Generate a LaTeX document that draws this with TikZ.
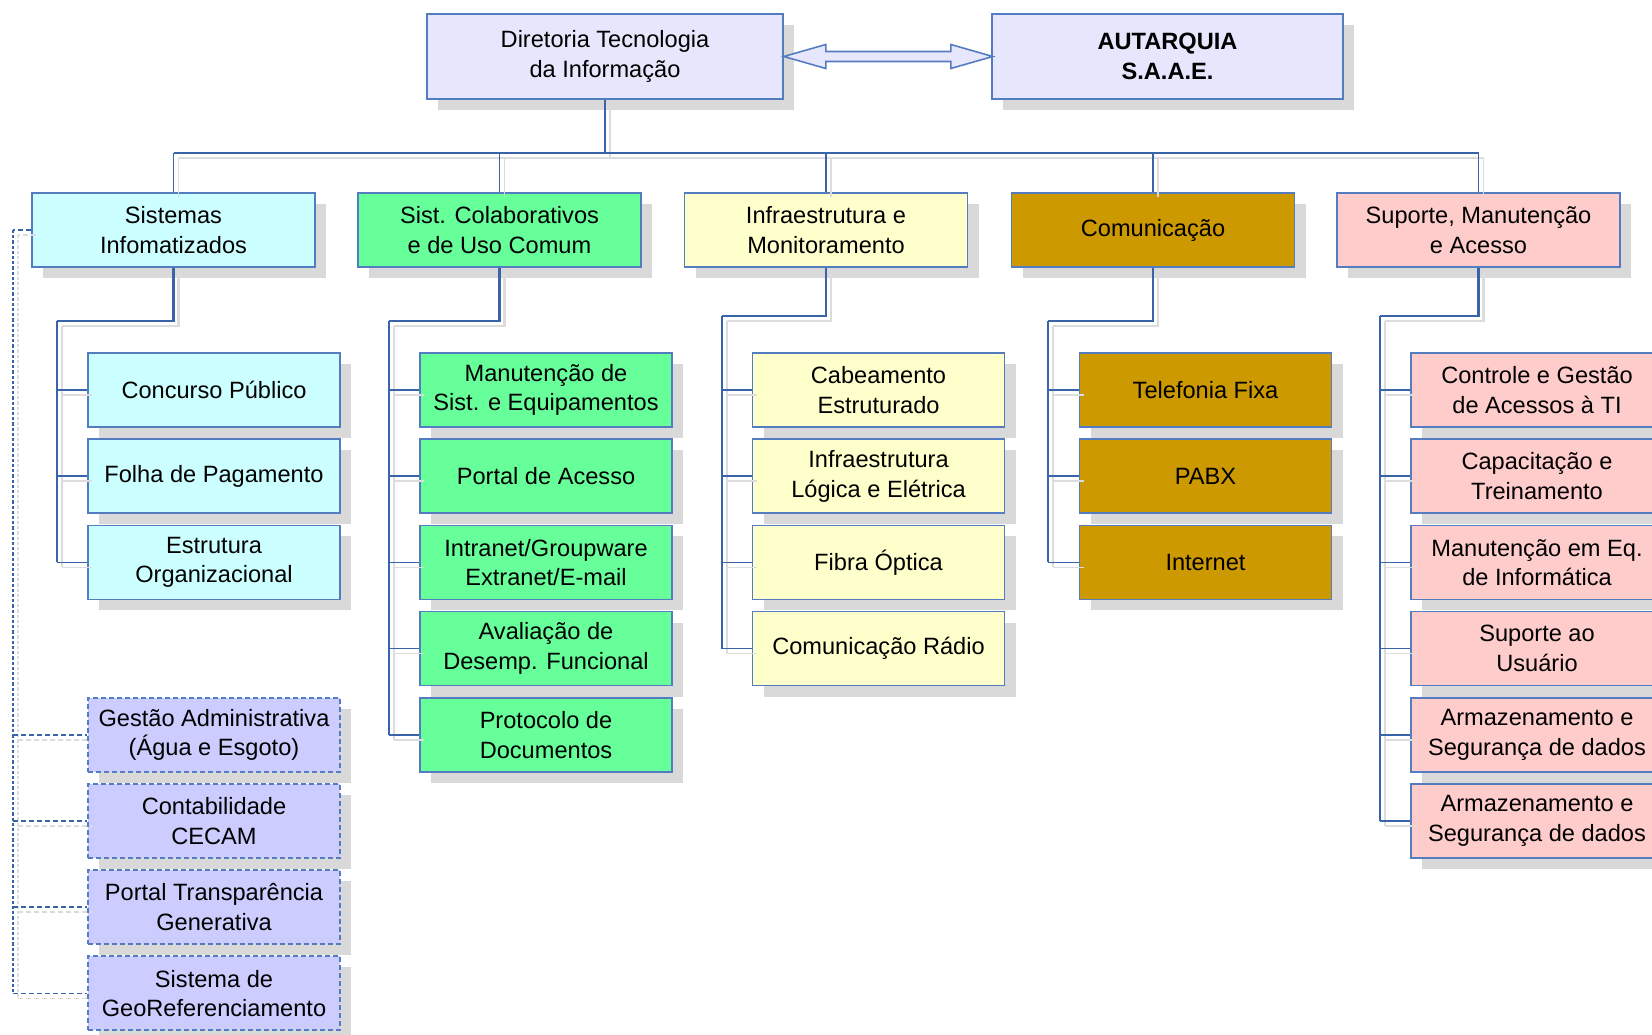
\documentclass[tikz,border=0pt]{standalone}
\usepackage{fontspec}
\setmainfont{Liberation Sans}
\usetikzlibrary{shadows}
\definecolor{lineblue}{RGB}{58,100,170}
\definecolor{bordblue}{RGB}{84,124,192}
\definecolor{shadowgray}{RGB}{217,217,217}
\definecolor{lineshadowc}{RGB}{220,220,220}
\definecolor{topfill}{RGB}{230,230,252}
\definecolor{cyanfill}{RGB}{204,255,255}
\definecolor{greenfill}{RGB}{102,255,153}
\definecolor{yellowfill}{RGB}{255,255,204}
\definecolor{goldfill}{RGB}{204,153,0}
\definecolor{pinkfill}{RGB}{255,204,204}
\definecolor{lavfill}{RGB}{204,204,255}
\newcommand\twoline[2]{\draw[#1,shad] #2; \draw[#1] #2;}
\tikzset{
  box/.style={draw=bordblue, line width=0.8pt, align=center, inner sep=0pt,
    font=\fontsize{11.8}{14.75}\selectfont, text=black,
    drop shadow={shadow xshift=5.5pt, shadow yshift=-5.5pt, fill=shadowgray, opacity=1}},
  topbox/.style={box, fill=topfill, minimum height=42.5pt},
  parentbox/.style={box, minimum width=141.5pt, minimum height=37pt},
  childbox/.style={box, minimum width=126pt, minimum height=37pt},
  dashbox/.style={childbox, fill=lavfill, dash pattern=on 2.5pt off 1.5pt, line width=1pt},
  conn/.style={draw=lineblue, line width=0.8pt},
  connthick/.style={draw=lineblue, line width=1.4pt},
  dconn/.style={draw=lineblue, line width=0.9pt, dash pattern=on 2.5pt off 1.5pt},
  dconnv/.style={draw=lineblue, line width=1.4pt, dash pattern=on 1.6pt off 1pt},
  shad/.style={draw=lineshadowc, transform canvas={shift={(2.5pt,-2.5pt)}}},
}
\begin{document}
\begin{tikzpicture}[x=0.5pt,y=-0.5pt]
\useasboundingbox (0,0) rectangle (1652,1034);
\clip (0,0) rectangle (1652,1034);
\fill[white] (0,0) rectangle (1652,1034);

% top boxes
\node[topbox, minimum width=178pt] (dir) at (605,56.5) {Diretoria Tecnologia\\da Informação};
\node[topbox, minimum width=175.5pt] (aut) at (1167.5,56.5) {\textbf{AUTARQUIA}\\\textbf{S.A.A.E.}};

% double arrow
\fill[shadowgray, shift={(5,5)}] (dir.east) -- ++(42,-12) -- ++(0,7) -- ++(125,0) -- ++(0,-7) -- ++(42,12) -- ++(-42,12) -- ++(0,-7) -- ++(-125,0) -- ++(0,7) -- cycle;
\draw[draw=bordblue, fill=topfill, line width=0.8pt] (dir.east) -- ++(42,-12) -- ++(0,7) -- ++(125,0) -- ++(0,-7) -- ++(42,12) -- ++(-42,12) -- ++(0,-7) -- ++(-125,0) -- ++(0,7) -- cycle;

% parents
\node[parentbox, fill=cyanfill] (p1) at (173.5,230) {Sistemas\\Infomatizados};
\node[parentbox, fill=greenfill] (p2) at (499.5,230) {Sist. Colaborativos\\e de Uso Comum};
\node[parentbox, fill=yellowfill] (p3) at (826,230) {Infraestrutura e\\Monitoramento};
\node[parentbox, fill=goldfill] (p4) at (1153,230) {Comunicação};
\node[parentbox, fill=pinkfill] (p5) at (1478.5,230) {Suporte, Manutenção\\e Acesso};

% column 1
\node[childbox, fill=cyanfill] (c11) at (214,390) {Concurso Público};
\node[childbox, fill=cyanfill] (c12) at (214,476.2) {Folha de Pagamento};
\node[childbox, fill=cyanfill] (c13) at (214,562.4) {Estrutura\\Organizacional};
% dashed
\node[dashbox] (d1) at (214,734.8) {Gestão Administrativa\\(Água e Esgoto)};
\node[dashbox] (d2) at (214,821) {Contabilidade\\CECAM};
\node[dashbox] (d3) at (214,907.2) {Portal Transparência\\Generativa};
\node[dashbox] (d4) at (214,993.4) {Sistema de\\GeoReferenciamento};

% column 2
\node[childbox, fill=greenfill] (c21) at (546,390) {Manutenção de\\Sist. e Equipamentos};
\node[childbox, fill=greenfill] (c22) at (546,476.2) {Portal de Acesso};
\node[childbox, fill=greenfill] (c23) at (546,562.4) {Intranet/Groupware\\Extranet/E-mail};
\node[childbox, fill=greenfill] (c24) at (546,648.6) {Avaliação de\\Desemp. Funcional};
\node[childbox, fill=greenfill] (c25) at (546,734.8) {Protocolo de\\Documentos};

% column 3
\node[childbox, fill=yellowfill] (c31) at (878.5,390) {Cabeamento\\Estruturado};
\node[childbox, fill=yellowfill] (c32) at (878.5,476.2) {Infraestrutura\\Lógica e Elétrica};
\node[childbox, fill=yellowfill] (c33) at (878.5,562.4) {Fibra Óptica};
\node[childbox, fill=yellowfill] (c34) at (878.5,648.6) {Comunicação Rádio};

% column 4
\node[childbox, fill=goldfill] (c41) at (1205.5,390) {Telefonia Fixa};
\node[childbox, fill=goldfill] (c42) at (1205.5,476.2) {PABX};
\node[childbox, fill=goldfill] (c43) at (1205.5,562.4) {Internet};

% column 5
\node[childbox, fill=pinkfill] (c51) at (1537,390) {Controle e Gestão\\de Acessos à TI};
\node[childbox, fill=pinkfill] (c52) at (1537,476.2) {Capacitação e\\Treinamento};
\node[childbox, fill=pinkfill] (c53) at (1537,562.4) {Manutenção em Eq.\\de Informática};
\node[childbox, fill=pinkfill] (c54) at (1537,648.6) {Suporte ao\\Usuário};
\node[childbox, fill=pinkfill] (c55) at (1537,734.8) {Armazenamento e\\Segurança de dados};
\node[childbox, fill=pinkfill] (c56) at (1537,821) {Armazenamento e\\Segurança de dados};

% coordinates
\coordinate (bus) at (605,153);
\coordinate (e1) at (57,321);
\coordinate (e2) at (389,321);
\coordinate (e3) at (722,316);
\coordinate (e4) at (1048,321);
\coordinate (e5) at (1380,316);
\coordinate (dl) at (13,230);

% top tree
\twoline{connthick}{(dir.south) -- (bus)}
\twoline{conn}{(p1.north |- bus) -- (p5.north |- bus)}
\foreach \p in {p1,p2,p3,p4,p5}{
  \twoline{conn}{(\p.north |- bus) -- (\p.north)}
}

% column connectors
\twoline{connthick}{(p1.south) |- (e1)}
\twoline{conn}{(e1) -- (e1 |- c13.west)}
\foreach \c in {c11,c12,c13}{\twoline{conn}{(e1 |- \c.west) -- (\c.west)}}

\twoline{connthick}{(p2.south) |- (e2)}
\twoline{conn}{(e2) -- (e2 |- c25.west)}
\foreach \c in {c21,c22,c23,c24,c25}{\twoline{conn}{(e2 |- \c.west) -- (\c.west)}}

\twoline{connthick}{(p3.south) |- (e3)}
\twoline{conn}{(e3) -- (e3 |- c34.west)}
\foreach \c in {c31,c32,c33,c34}{\twoline{conn}{(e3 |- \c.west) -- (\c.west)}}

\twoline{connthick}{(p4.south) |- (e4)}
\twoline{conn}{(e4) -- (e4 |- c43.west)}
\foreach \c in {c41,c42,c43}{\twoline{conn}{(e4 |- \c.west) -- (\c.west)}}

\twoline{connthick}{(p5.south) |- (e5)}
\twoline{conn}{(e5) -- (e5 |- c56.west)}
\foreach \c in {c51,c52,c53,c54,c55,c56}{\twoline{conn}{(e5 |- \c.west) -- (\c.west)}}

% dashed connectors
\twoline{dconn}{(p1.west) -- (dl)}
\twoline{dconnv}{(dl) -- (dl |- d4.west)}
\foreach \c in {d1,d2,d3,d4}{\twoline{dconn}{(dl |- \c.west) -- (\c.west)}}
\end{tikzpicture}
\end{document}
